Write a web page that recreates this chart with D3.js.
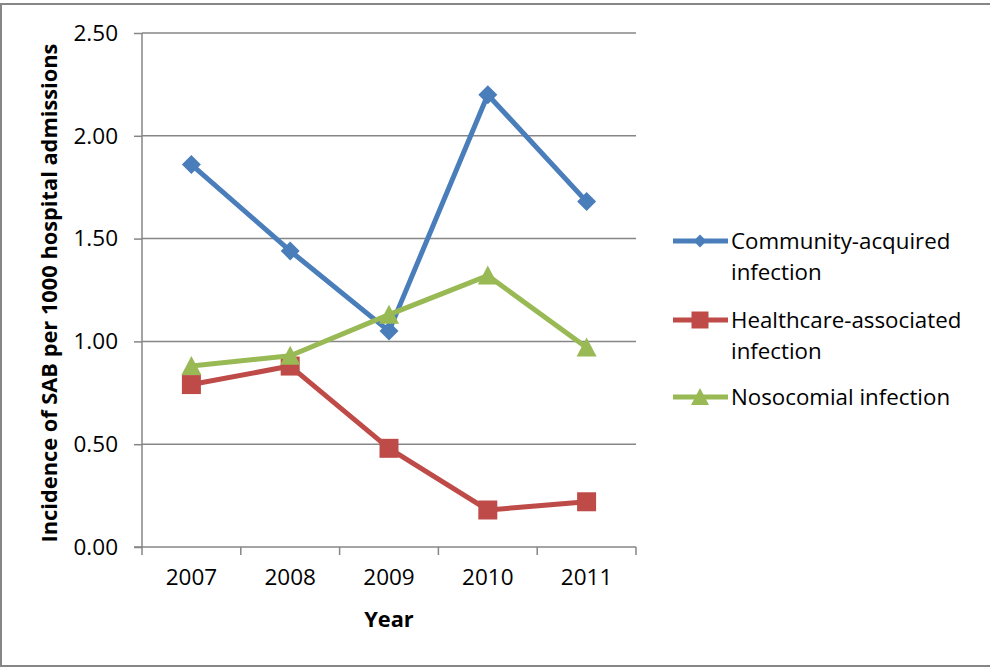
<!DOCTYPE html>
<html>
<head>
<meta charset="utf-8">
<script src="https://cdn.jsdelivr.net/npm/d3@7"></script>
<style>
    body { margin: 0; background: #fff; }
    svg { display: block; font-family: "Open Sans", Lato, sans-serif; }
</style>
</head>
<body>
<div class="chart__container"></div>
<script>
/*---------------------------Data---------------------------*/

const YEARS = ["2007", "2008", "2009", "2010", "2011"];
const COMMUNITY = [1.86, 1.44, 1.05, 2.20, 1.68];
const HEALTHCARE = [0.79, 0.88, 0.48, 0.18, 0.22];
const NOSOCOMIAL = [0.88, 0.93, 1.13, 1.32, 0.97];
const Y_TICKS = [0, 0.5, 1, 1.5, 2, 2.5];
const SERIES_NAMES = [
    ["Community-acquired", "infection"],
    ["Healthcare-associated", "infection"],
    ["Nosocomial infection"]
];

/*---------------------------Init---------------------------*/

const CHART__WIDTH = 990;
const CHART__HEIGHT = 669;
const PLOT = { left: 142, right: 636, top: 33, bottom: 547 };
const FONT = "'Open Sans', Lato, sans-serif";
const COLOR = {
    community: "#4A7EBB",
    healthcare: "#BE4B48",
    nosocomial: "#98B954",
    grid: "#868686"
};

const series = [
    { name: SERIES_NAMES[0], values: COMMUNITY, color: COLOR.community, shape: "diamond" },
    { name: SERIES_NAMES[1], values: HEALTHCARE, color: COLOR.healthcare, shape: "square" },
    { name: SERIES_NAMES[2], values: NOSOCOMIAL, color: COLOR.nosocomial, shape: "triangle" }
];

const svg = d3.select(".chart__container").append("svg")
    .attr("width", CHART__WIDTH)
    .attr("height", CHART__HEIGHT);

//outer frame
svg.append("rect")
    .attr("x", 1)
    .attr("y", 4)
    .attr("width", CHART__WIDTH + 10)
    .attr("height", 662)
    .attr("fill", "#fff")
    .attr("stroke", COLOR.grid)
    .attr("stroke-width", 2);

/*---------------------------Scales---------------------------*/

const xScale = d3.scaleBand().domain(YEARS).range([PLOT.left, PLOT.right]);
const yScale = d3.scaleLinear().domain([0, 2.5]).range([PLOT.bottom, PLOT.top]);

//gridlines
svg.append("g")
    .selectAll("line")
    .data(Y_TICKS.filter(d => d > 0))
    .enter()
    .append("line")
    .attr("x1", PLOT.left)
    .attr("x2", PLOT.right)
    .attr("y1", d => yScale(d))
    .attr("y2", d => yScale(d))
    .attr("stroke", COLOR.grid)
    .attr("stroke-width", 1.5);

//y-axis
const ordinate = d3.axisLeft(yScale)
    .tickValues(Y_TICKS)
    .tickFormat(d3.format(".2f"))
    .tickSize(8)
    .tickPadding(16);
const yAxis = svg.append("g")
    .attr("transform", `translate(${PLOT.left},0)`)
    .call(ordinate);

//x-axis, ticks on band edges
const abscissa = d3.axisBottom(xScale).tickSize(0).tickPadding(22);
const xAxis = svg.append("g")
    .attr("transform", `translate(0,${PLOT.bottom})`)
    .call(abscissa);

const edges = YEARS.map(y => xScale(y)).concat([xScale(YEARS[YEARS.length - 1]) + xScale.bandwidth()]);
svg.append("g")
    .selectAll("line")
    .data(edges)
    .enter()
    .append("line")
    .attr("x1", d => d)
    .attr("x2", d => d)
    .attr("y1", PLOT.bottom)
    .attr("y2", PLOT.bottom + 8)
    .attr("stroke", COLOR.grid)
    .attr("stroke-width", 1.5);

[yAxis, xAxis].forEach(ax => {
    ax.select(".domain").attr("stroke", COLOR.grid).attr("stroke-width", 1.5);
    ax.selectAll(".tick line").attr("stroke", COLOR.grid).attr("stroke-width", 1.5);
    ax.selectAll(".tick text").attr("font-size", 22.5).attr("fill", "#000")
        .style("font-family", FONT);
});
yAxis.select(".domain").attr("d", `M0,${PLOT.top}V${PLOT.bottom}`);
xAxis.select(".domain").attr("d", `M${PLOT.left - 8},0H${PLOT.right}`);

//axis titles
svg.append("text")
    .attr("transform", `translate(57,${(PLOT.top + PLOT.bottom) / 2 + 3}) rotate(-90)`)
    .attr("text-anchor", "middle")
    .attr("font-size", 21.8)
    .attr("font-weight", "bold")
    .text("Incidence of SAB per 1000 hospital admissions");

svg.append("text")
    .attr("x", (PLOT.left + PLOT.right) / 2)
    .attr("y", 627)
    .attr("text-anchor", "middle")
    .attr("font-size", 21.8)
    .attr("font-weight", "bold")
    .text("Year");

/*---------------------------Marks---------------------------*/

const marker = (shape, size) => {
    const h = size / 2;
    if (shape === "diamond") return `M0,${-h}L${h},0L0,${h}L${-h},0Z`;
    if (shape === "square") return `M${-h},${-h}H${h}V${h}H${-h}Z`;
    return `M0,${-h}L${h},${h * 0.9}H${-h}Z`;
};

const xCenter = d => xScale(d) + xScale.bandwidth() / 2;
const line = d3.line()
    .x((d, i) => xCenter(YEARS[i]))
    .y(d => yScale(d));

const MARK_SIZE = { diamond: 19, square: 19, triangle: 20 };
const LEGEND_MARK_SIZE = { diamond: 13, square: 17, triangle: 18 };

series.forEach(s => {
    const g = svg.append("g");
    g.append("path")
        .attr("d", line(s.values))
        .attr("fill", "none")
        .attr("stroke", s.color)
        .attr("stroke-width", 5)
        .attr("stroke-linejoin", "round");
    g.selectAll("path.pt")
        .data(s.values)
        .enter()
        .append("path")
        .attr("class", "pt")
        .attr("transform", (d, i) => `translate(${xCenter(YEARS[i])},${yScale(d)})`)
        .attr("d", marker(s.shape, MARK_SIZE[s.shape]))
        .attr("fill", s.color);
});

/*---------------------------Legend---------------------------*/

const LEGEND_Y = [241, 320, 397];
const legend = svg.append("g");
series.forEach((s, i) => {
    const y = LEGEND_Y[i];
    legend.append("line")
        .attr("x1", 673)
        .attr("x2", 728)
        .attr("y1", y)
        .attr("y2", y)
        .attr("stroke", s.color)
        .attr("stroke-width", 5);
    legend.append("path")
        .attr("transform", `translate(700,${y})`)
        .attr("d", marker(s.shape, LEGEND_MARK_SIZE[s.shape]))
        .attr("fill", s.color);
    const t = legend.append("text")
        .attr("x", 731)
        .attr("y", y + 7.5)
        .attr("font-size", 22.3)
        .attr("fill", "#000");
    s.name.forEach((part, k) => {
        t.append("tspan")
            .attr("x", 731)
            .attr("dy", k === 0 ? 0 : 31)
            .text(part);
    });
});
</script>
</body>
</html>
